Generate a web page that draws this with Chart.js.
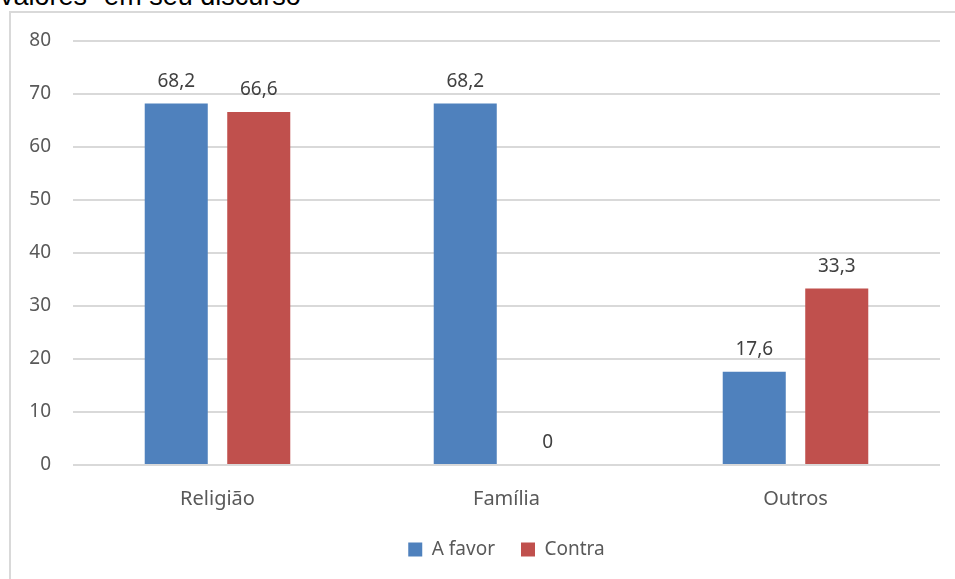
<!DOCTYPE html>
<html>
<head>
<meta charset="utf-8">
<script src="https://cdn.jsdelivr.net/npm/chart.js@4"></script>
<style>
  html, body { margin: 0; padding: 0; background: #fff; overflow: hidden; }
  #wrap { position: relative; width: 955px; height: 579px; }
  #frame {
    position: absolute; left: 9px; top: 11px; width: 960px; height: 580px;
    border-left: 2px solid #d9d9d9; border-top: 2px solid #d9d9d9; box-sizing: border-box;
  }
  #title {
    position: absolute; left: 0px; top: -19px; font-family: "Liberation Sans", Arial, sans-serif;
    font-size: 27px; color: #000; white-space: nowrap;
  }
  canvas { position: absolute; left: 0; top: 0; }
</style>
</head>
<body>
<div id="wrap">
  <div id="frame"></div>
  <div id="title">valores" em seu discurso</div>
  <canvas id="chart" width="955" height="579"></canvas>
</div>
<script>
const categories = ['Religião', 'Família', 'Outros'];
const aFavor = [68.2, 68.2, 17.6];
const contra = [66.6, 0, 33.3];
const yTicks = [0, 10, 20, 30, 40, 50, 60, 70, 80];

const fontFamily = '"Noto Sans", "Open Sans", sans-serif';

// draws the value above each bar
const valueLabels = {
    id: 'valueLabels',
    afterDatasetsDraw(chart) {
        const ctx = chart.ctx;
        ctx.save();
        ctx.font = '19px ' + fontFamily;
        ctx.fillStyle = '#404040';
        ctx.textAlign = 'center';
        ctx.textBaseline = 'alphabetic';
        chart.data.datasets.forEach((ds, i) => {
            chart.getDatasetMeta(i).data.forEach((bar, j) => {
                const txt = String(ds.data[j]).replace('.', ',');
                ctx.fillText(txt, bar.x, bar.y - 17);
            });
        });
        ctx.restore();
    }
};

new Chart(document.getElementById('chart'), {
    type: 'bar',
    data: {
        labels: categories,
        datasets: [{
            label: 'A favor',
            data: aFavor,
            backgroundColor: '#4F81BD',
            categoryPercentage: 0.571,
            barPercentage: 0.764
        }, {
            label: 'Contra',
            data: contra,
            backgroundColor: '#C0504D',
            categoryPercentage: 0.571,
            barPercentage: 0.764
        }]
    },
    options: {
        responsive: false,
        animation: false,
        layout: { padding: { top: 41, right: 15, bottom: 10, left: 0 } },
        plugins: {
            legend: {
                position: 'bottom',
                fullSize: false,
                labels: {
                    boxWidth: 14,
                    boxHeight: 14,
                    padding: 26,
                    color: '#595959',
                    font: { family: fontFamily, size: 19 }
                }
            },
            tooltip: { enabled: false }
        },
        scales: {
            x: {
                afterFit(scale) { scale.height -= 11; },
                grid: { display: false },
                border: { display: false },
                ticks: { color: '#595959', padding: 14, font: { family: fontFamily, size: 20 } }
            },
            y: {
                min: 0,
                max: 80,
                afterBuildTicks(scale) {
                    scale.ticks = yTicks.map(v => ({ value: v }));
                },
                afterFit(scale) { scale.width = 73; },
                grid: { color: '#d9d9d9', lineWidth: 2, drawTicks: false },
                border: { display: false },
                ticks: { color: '#595959', padding: 22, font: { family: fontFamily, size: 19 } }
            }
        }
    },
    plugins: [valueLabels]
});
</script>
</body>
</html>
